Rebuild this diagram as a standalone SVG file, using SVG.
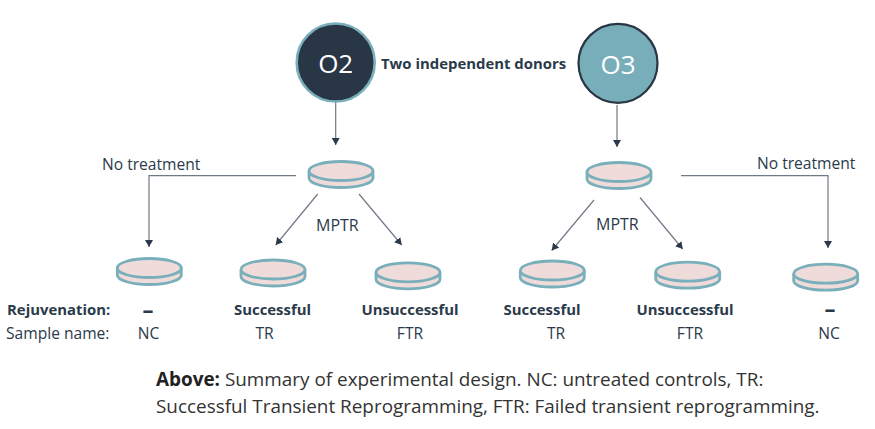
<svg xmlns="http://www.w3.org/2000/svg" width="875" height="429" viewBox="0 0 875 429">
<style>
text{font-family:"Open Sans","Noto Sans",sans-serif;fill:#2b3a4a;font-size:15.6px}
.b{font-weight:700;font-size:14.9px}
.m{text-anchor:middle}
.dash{font-size:22px}
.mp{font-size:16px}
.c{font-size:26px;fill:#fff;text-anchor:middle}
.cap{font-size:18.9px;fill:#333}
.cap .b{fill:#222;font-size:18.9px}
.con{fill:none;stroke:#6f7a86;stroke-width:1.2;marker-end:url(#a)}
.dish{fill:#efdbd9;stroke:#79afbb;stroke-width:2.8}
</style>
<defs>
<marker id="a" markerUnits="userSpaceOnUse" markerWidth="9" markerHeight="9" refX="7" refY="4" orient="auto"><path d="M0 0L7 4L0 8Z" fill="#2b3a4a"/></marker>
<g id="d"><path class="dish" d="M-32 0V7A32 9.5 0 0 0 32 7V0"/><ellipse class="dish" rx="32" ry="9.5"/></g>
</defs>
<rect width="875" height="429" fill="#fff"/>
<g id="connectors">
<path class="con" d="M335.7 102V145"/>
<path class="con" d="M617 105V147"/>
<path class="con" d="M296 175.7H149V247"/>
<path class="con" d="M317.7 194L275.7 245"/>
<path class="con" d="M359 194L401.7 245"/>
<path class="con" d="M594 200L551.7 250.5"/>
<path class="con" d="M640 197.5L682.7 249"/>
<path class="con" d="M681 175.7H828V248"/>
</g>
<g id="O2"><circle cx="335.7" cy="62.5" r="39" fill="#283645" stroke="#79afbb" stroke-width="2.6"/><text class="c" x="335.7" y="72.500">O2</text></g>
<g id="O3"><circle cx="618" cy="63.3" r="39.5" fill="#78aeba" stroke="#283645" stroke-width="2.2"/><text class="c" x="618" y="73.500">O3</text></g>
<g id="donors"><text class="b" x="381" y="69">Two independent donors</text></g>
<g id="dish-o2"><use href="#d" x="341" y="171"/></g>
<g id="dish-o3"><use href="#d" x="619" y="172"/></g>
<g id="dish-nc-left"><use href="#d" x="149.3" y="268"/><text class="b m dash" x="148" y="318">–</text><text class="m" x="148.500" y="338.500">NC</text></g>
<g id="dish-tr-left"><use href="#d" x="273" y="269.500"/><text class="b m" x="272.500" y="315">Successful</text><text class="m" x="264.500" y="338.500">TR</text></g>
<g id="dish-ftr-left"><use href="#d" x="408" y="272.300"/><text class="b m" x="410" y="315">Unsuccessful</text><text class="m" x="410" y="338.500">FTR</text></g>
<g id="dish-tr-right"><use href="#d" x="552.300" y="270.500"/><text class="b m" x="542" y="315">Successful</text><text class="m" x="556" y="338.500">TR</text></g>
<g id="dish-ftr-right"><use href="#d" x="687.700" y="271.700"/><text class="b m" x="685" y="315">Unsuccessful</text><text class="m" x="690" y="338.500">FTR</text></g>
<g id="dish-nc-right"><use href="#d" x="825.700" y="273.700"/><text class="b m dash" x="830" y="317">–</text><text class="m" x="829" y="338.500">NC</text></g>
<g id="labels">
<text x="102" y="170">No treatment</text>
<text x="757" y="169">No treatment</text>
<text class="mp" x="316" y="231">MPTR</text>
<text class="mp" x="596" y="230">MPTR</text>
<text class="b" x="7" y="315">Rejuvenation:</text>
<text x="6" y="338.500">Sample name:</text>
</g>
<g id="caption">
<text class="cap" x="156" y="386"><tspan class="b">Above:</tspan> Summary of experimental design. NC: untreated controls, TR:</text>
<text class="cap" x="156" y="413">Successful Transient Reprogramming, FTR: Failed transient reprogramming.</text>
</g>
</svg>
